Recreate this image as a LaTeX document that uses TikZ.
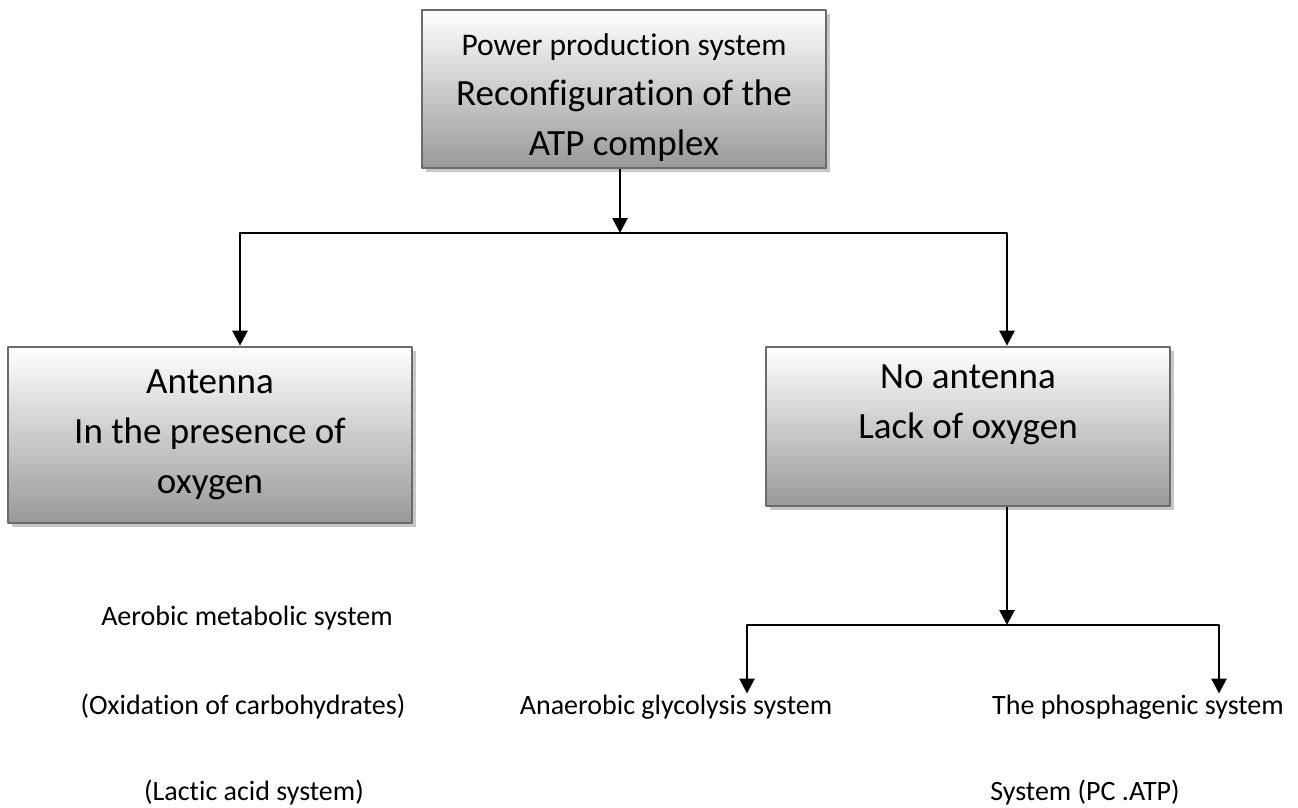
\documentclass[tikz,border=0pt]{standalone}
\usepackage{fontspec}
\setmainfont{Carlito}[Ligatures=CommonOff]
\usetikzlibrary{arrows.meta,shadows}
\begin{document}
\begin{tikzpicture}[>={Triangle[length=15pt,width=15pt]},x=1pt,y=-1pt,line width=2.7pt,line join=round,
		box/.style={draw=black!58,top color=white,bottom color=black!40,minimum width=404pt,align=center,inner sep=0pt,font=\fontsize{37}{50}\selectfont,drop shadow={shadow xshift=4pt,shadow yshift=-4pt,fill=black!22,opacity=1}},
		txt/.style={inner sep=0pt,font=\fontsize{28}{34}\selectfont}]
	\useasboundingbox (0,0) rectangle (1298,807);
	% boxes
	\node[box,minimum height=158pt] (top) at (624,89) {\rule{0pt}{38pt}{\fontsize{31.5}{40}\selectfont Power production system}\\Reconfiguration of the\\ATP complex};
	\node[box,minimum height=176pt] (left) at (210,435) {Antenna\\In the presence of\\oxygen};
	\node[box,minimum height=159pt] (right) at (968,426.5) {No antenna\\Lack of oxygen\\\mbox{}};
	% systems
	\node[txt] (aero) at (247,618) {Aerobic metabolic system};
	\node[txt] (oxid) at (243,707) {(Oxidation of carbohydrates)};
	\node[txt] (lact) at (254,793) {(Lactic acid system)};
	\node[txt] (anaer) at (676,707) {Anaerobic glycolysis system};
	\node[txt] (phos) at (1138,707) {The phosphagenic system};
	\node[txt] (pcatp) at (1085,793) {System (PC .ATP)};
	% arrows
	\coordinate (j1) at (620,233);
	\coordinate (j2) at (1007,625);
	\draw[->] (top.south -| j1) -- (j1);
	\foreach \n/\s in {left/30pt,right/39pt}
		\draw[->] (j1) -| ([xshift=\s]\n.north);
	\draw[->] (right.south -| j2) -- (j2);
	\foreach \n/\s in {anaer/71pt,phos/81pt}
		\draw[->] (j2) -| ([xshift=\s]\n.north);
\end{tikzpicture}
\end{document}
